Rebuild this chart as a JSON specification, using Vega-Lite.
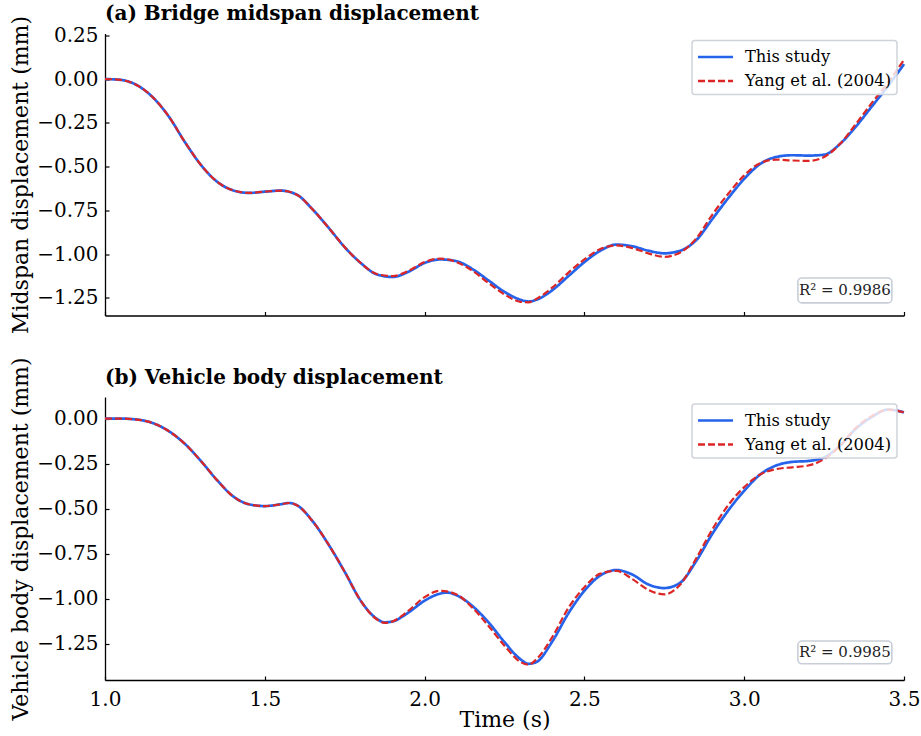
{
  "$schema": "https://vega.github.io/schema/vega-lite/v6.json",
  "background": "white",
  "padding": {"left": 9, "top": 3.5, "right": 0, "bottom": 0},
  "spacing": 21.5,
  "config": {
    "font": "DejaVu Serif",
    "view": {"stroke": null},
    "axis": {"grid": false, "domainColor": "black", "tickColor": "black", "labelColor": "black", "titleColor": "black", "labelFont": "DejaVu Serif", "titleFont": "DejaVu Serif", "titleFontWeight": "normal", "labelFontSize": 20, "titleFontSize": 22, "tickSize": -4, "domainWidth": 1.3, "tickWidth": 1.2, "labelFlush": false},
    "axisY": {"labelPadding": 11, "titlePadding": 4},
    "axisX": {"labelPadding": 13, "titlePadding": 0},
    "legend": {"orient": "top-right", "offset": 7, "title": null, "fillColor": "rgba(255,255,255,0.8)", "strokeColor": "#d0d3da", "strokeWidth": 1.5, "cornerRadius": 3, "padding": 5, "labelFont": "DejaVu Serif", "labelFontSize": 16.3, "labelColor": "black", "symbolType": "M-1.75,0L1.75,0", "symbolSize": 400, "symbolStrokeWidth": 2.6, "symbolOffset": 7, "labelOffset": 18, "rowPadding": 4},
    "title": {"anchor": "start", "frame": "group", "font": "DejaVu Serif", "fontSize": 20, "fontWeight": "bold", "color": "black"}
  },
  "datasets": {
    "a": [
      {"series":"This study","t":1.00,"v":0.000},{"series":"This study","t":1.05,"v":-0.005},{"series":"This study","t":1.10,"v":-0.035},{"series":"This study","t":1.15,"v":-0.105},{"series":"This study","t":1.20,"v":-0.215},{"series":"This study","t":1.25,"v":-0.36},{"series":"This study","t":1.30,"v":-0.49},{"series":"This study","t":1.35,"v":-0.585},{"series":"This study","t":1.40,"v":-0.635},{"series":"This study","t":1.45,"v":-0.65},{"series":"This study","t":1.50,"v":-0.643},{"series":"This study","t":1.55,"v":-0.637},{"series":"This study","t":1.60,"v":-0.66},{"series":"This study","t":1.65,"v":-0.745},{"series":"This study","t":1.70,"v":-0.85},{"series":"This study","t":1.75,"v":-0.96},{"series":"This study","t":1.80,"v":-1.05},{"series":"This study","t":1.85,"v":-1.115},{"series":"This study","t":1.90,"v":-1.13},{"series":"This study","t":1.95,"v":-1.10},{"series":"This study","t":2.00,"v":-1.05},{"series":"This study","t":2.05,"v":-1.03},{"series":"This study","t":2.10,"v":-1.04},{"series":"This study","t":2.15,"v":-1.085},{"series":"This study","t":2.20,"v":-1.15},{"series":"This study","t":2.25,"v":-1.215},{"series":"This study","t":2.30,"v":-1.26},{"series":"This study","t":2.325,"v":-1.27},{"series":"This study","t":2.35,"v":-1.26},{"series":"This study","t":2.40,"v":-1.205},{"series":"This study","t":2.45,"v":-1.125},{"series":"This study","t":2.50,"v":-1.045},{"series":"This study","t":2.55,"v":-0.98},{"series":"This study","t":2.60,"v":-0.945},{"series":"This study","t":2.65,"v":-0.955},{"series":"This study","t":2.70,"v":-0.98},{"series":"This study","t":2.75,"v":-0.995},{"series":"This study","t":2.80,"v":-0.98},{"series":"This study","t":2.85,"v":-0.92},{"series":"This study","t":2.90,"v":-0.80},{"series":"This study","t":2.95,"v":-0.68},{"series":"This study","t":3.00,"v":-0.57},{"series":"This study","t":3.05,"v":-0.485},{"series":"This study","t":3.10,"v":-0.445},{"series":"This study","t":3.15,"v":-0.435},{"series":"This study","t":3.20,"v":-0.437},{"series":"This study","t":3.25,"v":-0.432},{"series":"This study","t":3.30,"v":-0.37},{"series":"This study","t":3.35,"v":-0.27},{"series":"This study","t":3.40,"v":-0.155},{"series":"This study","t":3.45,"v":-0.04},{"series":"This study","t":3.50,"v":0.085},
      {"series":"Yang et al. (2004)","t":1.00,"v":0.000},{"series":"Yang et al. (2004)","t":1.05,"v":-0.005},{"series":"Yang et al. (2004)","t":1.10,"v":-0.035},{"series":"Yang et al. (2004)","t":1.15,"v":-0.105},{"series":"Yang et al. (2004)","t":1.20,"v":-0.215},{"series":"Yang et al. (2004)","t":1.25,"v":-0.36},{"series":"Yang et al. (2004)","t":1.30,"v":-0.49},{"series":"Yang et al. (2004)","t":1.35,"v":-0.585},{"series":"Yang et al. (2004)","t":1.40,"v":-0.635},{"series":"Yang et al. (2004)","t":1.45,"v":-0.65},{"series":"Yang et al. (2004)","t":1.50,"v":-0.643},{"series":"Yang et al. (2004)","t":1.55,"v":-0.637},{"series":"Yang et al. (2004)","t":1.60,"v":-0.66},{"series":"Yang et al. (2004)","t":1.65,"v":-0.745},{"series":"Yang et al. (2004)","t":1.70,"v":-0.85},{"series":"Yang et al. (2004)","t":1.75,"v":-0.96},{"series":"Yang et al. (2004)","t":1.80,"v":-1.05},{"series":"Yang et al. (2004)","t":1.85,"v":-1.113},{"series":"Yang et al. (2004)","t":1.90,"v":-1.125},{"series":"Yang et al. (2004)","t":1.95,"v":-1.095},{"series":"Yang et al. (2004)","t":2.00,"v":-1.045},{"series":"Yang et al. (2004)","t":2.05,"v":-1.025},{"series":"Yang et al. (2004)","t":2.10,"v":-1.045},{"series":"Yang et al. (2004)","t":2.15,"v":-1.095},{"series":"Yang et al. (2004)","t":2.20,"v":-1.165},{"series":"Yang et al. (2004)","t":2.25,"v":-1.23},{"series":"Yang et al. (2004)","t":2.30,"v":-1.272},{"series":"Yang et al. (2004)","t":2.325,"v":-1.275},{"series":"Yang et al. (2004)","t":2.35,"v":-1.255},{"series":"Yang et al. (2004)","t":2.40,"v":-1.19},{"series":"Yang et al. (2004)","t":2.45,"v":-1.105},{"series":"Yang et al. (2004)","t":2.50,"v":-1.03},{"series":"Yang et al. (2004)","t":2.55,"v":-0.97},{"series":"Yang et al. (2004)","t":2.60,"v":-0.95},{"series":"Yang et al. (2004)","t":2.65,"v":-0.965},{"series":"Yang et al. (2004)","t":2.70,"v":-0.995},{"series":"Yang et al. (2004)","t":2.75,"v":-1.015},{"series":"Yang et al. (2004)","t":2.80,"v":-0.99},{"series":"Yang et al. (2004)","t":2.85,"v":-0.91},{"series":"Yang et al. (2004)","t":2.90,"v":-0.775},{"series":"Yang et al. (2004)","t":2.95,"v":-0.655},{"series":"Yang et al. (2004)","t":3.00,"v":-0.55},{"series":"Yang et al. (2004)","t":3.05,"v":-0.48},{"series":"Yang et al. (2004)","t":3.10,"v":-0.46},{"series":"Yang et al. (2004)","t":3.15,"v":-0.465},{"series":"Yang et al. (2004)","t":3.20,"v":-0.467},{"series":"Yang et al. (2004)","t":3.25,"v":-0.445},{"series":"Yang et al. (2004)","t":3.30,"v":-0.37},{"series":"Yang et al. (2004)","t":3.35,"v":-0.255},{"series":"Yang et al. (2004)","t":3.40,"v":-0.135},{"series":"Yang et al. (2004)","t":3.45,"v":-0.02},{"series":"Yang et al. (2004)","t":3.50,"v":0.11}
    ],
    "b": [
      {"series":"This study","t":1.00,"v":0.0},{"series":"This study","t":1.05,"v":0.0},{"series":"This study","t":1.10,"v":-0.005},{"series":"This study","t":1.15,"v":-0.025},{"series":"This study","t":1.20,"v":-0.07},{"series":"This study","t":1.25,"v":-0.14},{"series":"This study","t":1.30,"v":-0.235},{"series":"This study","t":1.35,"v":-0.34},{"series":"This study","t":1.40,"v":-0.43},{"series":"This study","t":1.45,"v":-0.475},{"series":"This study","t":1.50,"v":-0.485},{"series":"This study","t":1.55,"v":-0.475},{"series":"This study","t":1.575,"v":-0.468},{"series":"This study","t":1.60,"v":-0.48},{"series":"This study","t":1.65,"v":-0.57},{"series":"This study","t":1.70,"v":-0.70},{"series":"This study","t":1.75,"v":-0.85},{"series":"This study","t":1.80,"v":-1.01},{"series":"This study","t":1.85,"v":-1.11},{"series":"This study","t":1.875,"v":-1.13},{"series":"This study","t":1.90,"v":-1.125},{"series":"This study","t":1.95,"v":-1.075},{"series":"This study","t":2.00,"v":-1.01},{"series":"This study","t":2.05,"v":-0.97},{"series":"This study","t":2.07,"v":-0.965},{"series":"This study","t":2.10,"v":-0.98},{"series":"This study","t":2.15,"v":-1.04},{"series":"This study","t":2.20,"v":-1.13},{"series":"This study","t":2.25,"v":-1.24},{"series":"This study","t":2.30,"v":-1.335},{"series":"This study","t":2.325,"v":-1.36},{"series":"This study","t":2.35,"v":-1.35},{"series":"This study","t":2.40,"v":-1.235},{"series":"This study","t":2.45,"v":-1.08},{"series":"This study","t":2.50,"v":-0.955},{"series":"This study","t":2.55,"v":-0.87},{"series":"This study","t":2.60,"v":-0.84},{"series":"This study","t":2.65,"v":-0.865},{"series":"This study","t":2.70,"v":-0.92},{"series":"This study","t":2.75,"v":-0.94},{"series":"This study","t":2.80,"v":-0.91},{"series":"This study","t":2.85,"v":-0.79},{"series":"This study","t":2.90,"v":-0.64},{"series":"This study","t":2.95,"v":-0.51},{"series":"This study","t":3.00,"v":-0.40},{"series":"This study","t":3.05,"v":-0.31},{"series":"This study","t":3.10,"v":-0.26},{"series":"This study","t":3.15,"v":-0.24},{"series":"This study","t":3.20,"v":-0.235},{"series":"This study","t":3.25,"v":-0.215},{"series":"This study","t":3.30,"v":-0.15},{"series":"This study","t":3.35,"v":-0.055},{"series":"This study","t":3.40,"v":0.01},{"series":"This study","t":3.45,"v":0.05},{"series":"This study","t":3.50,"v":0.035},
      {"series":"Yang et al. (2004)","t":1.00,"v":0.0},{"series":"Yang et al. (2004)","t":1.05,"v":0.0},{"series":"Yang et al. (2004)","t":1.10,"v":-0.005},{"series":"Yang et al. (2004)","t":1.15,"v":-0.025},{"series":"Yang et al. (2004)","t":1.20,"v":-0.07},{"series":"Yang et al. (2004)","t":1.25,"v":-0.14},{"series":"Yang et al. (2004)","t":1.30,"v":-0.235},{"series":"Yang et al. (2004)","t":1.35,"v":-0.34},{"series":"Yang et al. (2004)","t":1.40,"v":-0.43},{"series":"Yang et al. (2004)","t":1.45,"v":-0.475},{"series":"Yang et al. (2004)","t":1.50,"v":-0.485},{"series":"Yang et al. (2004)","t":1.55,"v":-0.475},{"series":"Yang et al. (2004)","t":1.575,"v":-0.468},{"series":"Yang et al. (2004)","t":1.60,"v":-0.48},{"series":"Yang et al. (2004)","t":1.65,"v":-0.57},{"series":"Yang et al. (2004)","t":1.70,"v":-0.70},{"series":"Yang et al. (2004)","t":1.75,"v":-0.85},{"series":"Yang et al. (2004)","t":1.80,"v":-1.01},{"series":"Yang et al. (2004)","t":1.85,"v":-1.113},{"series":"Yang et al. (2004)","t":1.875,"v":-1.133},{"series":"Yang et al. (2004)","t":1.90,"v":-1.125},{"series":"Yang et al. (2004)","t":1.95,"v":-1.065},{"series":"Yang et al. (2004)","t":2.00,"v":-0.99},{"series":"Yang et al. (2004)","t":2.05,"v":-0.955},{"series":"Yang et al. (2004)","t":2.10,"v":-0.975},{"series":"Yang et al. (2004)","t":2.15,"v":-1.05},{"series":"Yang et al. (2004)","t":2.20,"v":-1.15},{"series":"Yang et al. (2004)","t":2.25,"v":-1.26},{"series":"Yang et al. (2004)","t":2.30,"v":-1.35},{"series":"Yang et al. (2004)","t":2.325,"v":-1.365},{"series":"Yang et al. (2004)","t":2.35,"v":-1.335},{"series":"Yang et al. (2004)","t":2.40,"v":-1.21},{"series":"Yang et al. (2004)","t":2.45,"v":-1.05},{"series":"Yang et al. (2004)","t":2.50,"v":-0.935},{"series":"Yang et al. (2004)","t":2.55,"v":-0.86},{"series":"Yang et al. (2004)","t":2.60,"v":-0.845},{"series":"Yang et al. (2004)","t":2.65,"v":-0.89},{"series":"Yang et al. (2004)","t":2.70,"v":-0.95},{"series":"Yang et al. (2004)","t":2.75,"v":-0.975},{"series":"Yang et al. (2004)","t":2.80,"v":-0.92},{"series":"Yang et al. (2004)","t":2.85,"v":-0.775},{"series":"Yang et al. (2004)","t":2.90,"v":-0.615},{"series":"Yang et al. (2004)","t":2.95,"v":-0.48},{"series":"Yang et al. (2004)","t":3.00,"v":-0.38},{"series":"Yang et al. (2004)","t":3.05,"v":-0.31},{"series":"Yang et al. (2004)","t":3.10,"v":-0.28},{"series":"Yang et al. (2004)","t":3.15,"v":-0.27},{"series":"Yang et al. (2004)","t":3.20,"v":-0.26},{"series":"Yang et al. (2004)","t":3.25,"v":-0.225},{"series":"Yang et al. (2004)","t":3.30,"v":-0.15},{"series":"Yang et al. (2004)","t":3.35,"v":-0.05},{"series":"Yang et al. (2004)","t":3.40,"v":0.015},{"series":"Yang et al. (2004)","t":3.45,"v":0.05},{"series":"Yang et al. (2004)","t":3.50,"v":0.035}
    ]
  },
  "resolve": {"legend": {"color": "independent", "strokeDash": "independent"}, "scale": {"y": "independent"}},
  "vconcat": [
    {
      "width": 799, "height": 282,
      "title": {"text": "(a) Bridge midspan displacement", "offset": -8.5},
      "layer": [
        {"data": {"name": "a"}, "transform": [{"filter": "datum.series === 'This study'"}], "mark": {"type": "line", "strokeWidth": 2.7, "interpolate": "monotone"},
         "encoding": {
           "x": {"field": "t", "type": "quantitative", "scale": {"domain": [1.0, 3.5], "nice": false, "zero": false}, "axis": {"values": [1, 1.5, 2, 2.5, 3, 3.5], "labels": false, "title": null}},
           "y": {"field": "v", "type": "quantitative", "scale": {"domain": [-1.35, 0.26], "nice": false, "zero": false}, "axis": {"values": [-1.25, -1, -0.75, -0.5, -0.25, 0, 0.25], "format": ".2f", "title": "Midspan displacement (mm)"}},
           "color": {"field": "series", "type": "nominal", "scale": {"domain": ["This study", "Yang et al. (2004)"], "range": ["#2563eb", "#dc2626"]}},
           "strokeDash": {"field": "series", "type": "nominal", "scale": {"domain": ["This study", "Yang et al. (2004)"], "range": [[1, 0], [7, 3]]}}}},
        {"data": {"name": "a"}, "transform": [{"filter": "datum.series !== 'This study'"}], "mark": {"type": "line", "strokeWidth": 2.2, "interpolate": "monotone"},
         "encoding": {"x": {"field": "t", "type": "quantitative"}, "y": {"field": "v", "type": "quantitative"}, "color": {"field": "series", "type": "nominal"}, "strokeDash": {"field": "series", "type": "nominal"}}},
        {"data": {"values": [{"label": "R² = 0.9986"}]}, "mark": {"type": "rect", "fill": "white", "stroke": "#c8ced8", "strokeWidth": 1.6, "cornerRadius": 4},
         "encoding": {"x": {"datum": 3.168, "type": "quantitative"}, "x2": {"datum": 3.462}, "y": {"datum": -1.136, "type": "quantitative"}, "y2": {"datum": -1.278}}},
        {"data": {"values": [{"label": "R² = 0.9986"}]}, "mark": {"type": "text", "font": "DejaVu Serif", "fontSize": 15, "align": "center", "baseline": "middle", "color": "#222222"},
         "encoding": {"text": {"field": "label", "type": "nominal"}, "x": {"datum": 3.315, "type": "quantitative"}, "y": {"datum": -1.207, "type": "quantitative"}}}
      ]
    },
    {
      "width": 799, "height": 283,
      "title": {"text": "(b) Vehicle body displacement", "offset": -31.5},
      "layer": [
        {"data": {"name": "b"}, "transform": [{"filter": "datum.series === 'This study'"}], "mark": {"type": "line", "strokeWidth": 2.7, "interpolate": "monotone"},
         "encoding": {
           "x": {"field": "t", "type": "quantitative", "scale": {"domain": [1.0, 3.5], "nice": false, "zero": false}, "axis": {"values": [1, 1.5, 2, 2.5, 3, 3.5], "format": ".1f", "title": "Time (s)"}},
           "y": {"field": "v", "type": "quantitative", "scale": {"domain": [-1.45, 0.12], "nice": false, "zero": false}, "axis": {"values": [-1.25, -1, -0.75, -0.5, -0.25, 0], "format": ".2f", "title": "Vehicle body displacement (mm)"}},
           "color": {"field": "series", "type": "nominal", "scale": {"domain": ["This study", "Yang et al. (2004)"], "range": ["#2563eb", "#dc2626"]}},
           "strokeDash": {"field": "series", "type": "nominal", "scale": {"domain": ["This study", "Yang et al. (2004)"], "range": [[1, 0], [7, 3]]}}}},
        {"data": {"name": "b"}, "transform": [{"filter": "datum.series !== 'This study'"}], "mark": {"type": "line", "strokeWidth": 2.2, "interpolate": "monotone"},
         "encoding": {"x": {"field": "t", "type": "quantitative"}, "y": {"field": "v", "type": "quantitative"}, "color": {"field": "series", "type": "nominal"}, "strokeDash": {"field": "series", "type": "nominal"}}},
        {"data": {"values": [{"label": "R² = 0.9985"}]}, "mark": {"type": "rect", "fill": "white", "stroke": "#c8ced8", "strokeWidth": 1.6, "cornerRadius": 4},
         "encoding": {"x": {"datum": 3.168, "type": "quantitative"}, "x2": {"datum": 3.462}, "y": {"datum": -1.234, "type": "quantitative"}, "y2": {"datum": -1.36}}},
        {"data": {"values": [{"label": "R² = 0.9985"}]}, "mark": {"type": "text", "font": "DejaVu Serif", "fontSize": 15, "align": "center", "baseline": "middle", "color": "#222222"},
         "encoding": {"text": {"field": "label", "type": "nominal"}, "x": {"datum": 3.315, "type": "quantitative"}, "y": {"datum": -1.297, "type": "quantitative"}}}
      ]
    }
  ]
}
